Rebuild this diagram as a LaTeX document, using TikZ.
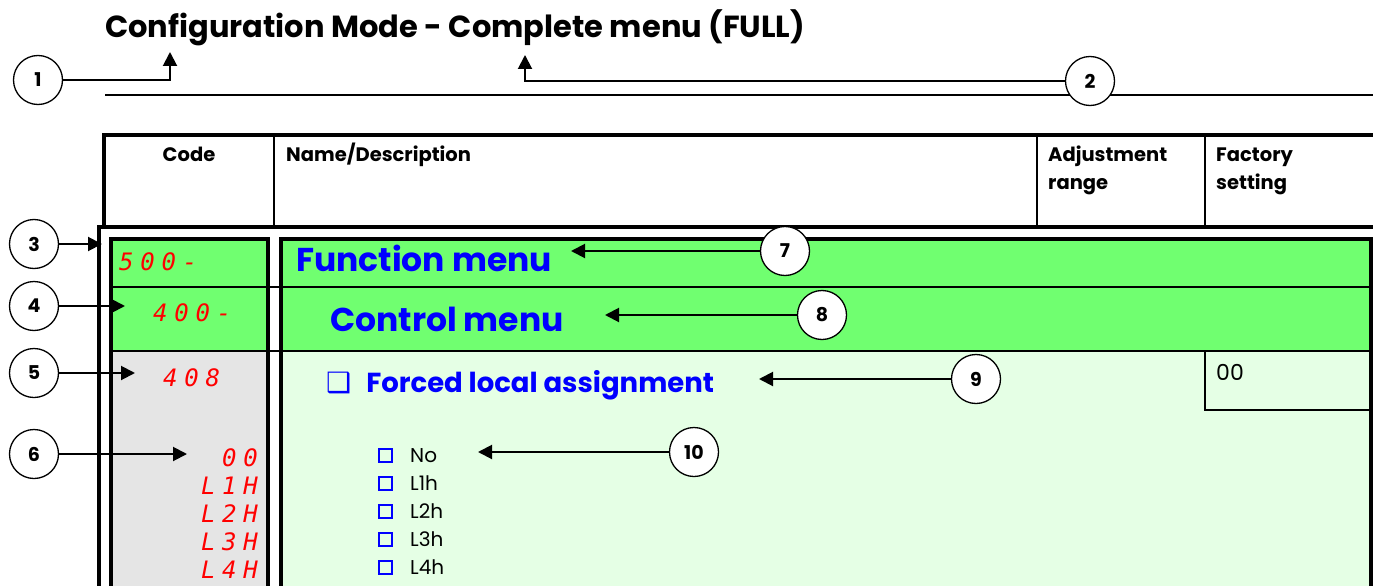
\documentclass[tikz,border=0pt]{standalone}
\usepackage{fontspec}
\setmainfont{Poppins}
\newfontfamily\segfont[LetterSpace=28]{DejaVu Sans Mono}
\newfontfamily\symfont{DejaVu Sans}
\usetikzlibrary{arrows.meta}

\definecolor{menugreen}{RGB}{112,255,112}
\definecolor{palegreen}{RGB}{229,255,229}
\definecolor{codegray}{RGB}{229,229,229}
\definecolor{segred}{RGB}{255,0,0}
\definecolor{menublue}{RGB}{0,0,255}

\tikzset{
  callout/.style={circle, draw, fill=white, line width=1.3pt, minimum size=49pt,
    inner sep=0pt, font=\bfseries\fontsize{19}{19}\selectfont},
  pointer/.style={line width=2pt, -{Triangle[length=14pt,width=14pt]}},
  thickrule/.style={line width=4.5pt},
  thinrule/.style={line width=1.2pt},
  segcode/.style={text=segred, inner sep=0pt,
    font=\segfont\itshape\fontsize{24}{24}\selectfont},
  colhead/.style={inner sep=0pt, font=\bfseries\fontsize{19.5}{19.5}\selectfont},
  menuhead/.style={inner sep=0pt, text=menublue, font=\bfseries\fontsize{33}{33}\selectfont},
  opttext/.style={inner sep=0pt, font=\fontsize{20}{20}\selectfont},
  optbox/.style={draw=menublue, line width=2pt, minimum size=13pt, inner sep=0pt}
}

\begin{document}
\begin{tikzpicture}[x=1pt,y=-1pt]
  \useasboundingbox (0,0) rectangle (1373,586);
  \clip (0,0) rectangle (1373,586);

  % title
  \node[inner sep=0pt, anchor=base west, font=\bfseries\fontsize{30.5}{30.5}\selectfont]
    (title) at (105,38) {Configuration Mode - Complete menu (FULL)};
  \draw[thinrule] (105,95) -- (1380,95);

  % fills
  \fill[menugreen] (111,239) rectangle (268,351);
  \fill[codegray] (111,351) rectangle (268,600);
  \fill[menugreen] (281,239) rectangle (1371,351);
  \fill[palegreen] (281,351) rectangle (1371,600);

  % header
  \draw[thickrule] (104,229) -- (104,135) -- (1380,135);
  \draw[thinrule] (274,135) -- (274,227);
  \draw[thinrule] (1037,135) -- (1037,227);
  \draw[thinrule] (1205,135) -- (1205,227);
  \node[colhead, anchor=base] (code) at (189,161) {Code};
  \node[colhead, anchor=base west] (name) at (286,161) {Name/Description};
  \node[colhead, anchor=base west] (adj) at (1048,161) {Adjustment};
  \node[colhead, anchor=base west] (adjb) at (1048,189) {range};
  \node[colhead, anchor=base west] (fact) at (1216,161) {Factory};
  \node[colhead, anchor=base west] (factb) at (1216,189) {setting};

  % boxes
  \draw[thickrule] (99,600) -- (99,227) -- (1380,227);
  \draw[thickrule] (111,600) -- (111,239) -- (268,239) -- (268,600);
  \draw[thickrule] (281,600) -- (281,239) -- (1371,239) -- (1371,600);
  \draw[thinrule] (111,287) -- (1371,287);
  \draw[thinrule] (111,351) -- (1371,351);
  \draw[thinrule] (1205,351) -- (1205,410) -- (1371,410);

  % codes
  \node[segcode, anchor=base west] (fun) at (119,270) {500-};
  \node[segcode, anchor=base west] (ctl) at (153,321) {400-};
  \node[segcode, anchor=base west] (flo) at (163,386) {408};
  \foreach \c [count=\i] in {00,L1H,L2H,L3H,L4H}
    \node[segcode, anchor=base east] (val\i) at (258,{438+28*\i}) {\c};

  % names
  \node[menuhead, anchor=base west] (funname) at (296,271) {Function menu};
  \node[menuhead, anchor=base west] (ctlname) at (330,331) {Control menu};
  \node[inner sep=0pt, anchor=base west, text=menublue, font=\bfseries\fontsize{27.5}{27.5}\selectfont]
    (floname) at (326,392) {{\symfont\fontsize{28}{28}\selectfont ❑}\hspace{15pt}Forced local assignment};
  \foreach \o [count=\i] in {No,L1h,L2h,L3h,L4h} {
    \node[optbox] (box\i) at (385,{427+28*\i}) {};
    \node[opttext, anchor=base west] (opt\i) at (410,{434+28*\i}) {\o};
  }
  \node[opttext, anchor=base west, font=\fontsize{22}{22}\selectfont] (factval) at (1216,380) {00};

  % callouts
  \foreach \n/\x/\y in {1/38/80, 2/1090/81, 3/34/244, 4/34/306, 5/34/373,
      6/34/454, 7/785/251, 8/822/315, 9/976/379, 10/694/452}
    \node[callout] (c\n) at (\x,\y) {\n};
  \coordinate (p1) at (170,52);
  \coordinate (p2) at (525,55);
  \draw[pointer] (c1) -| (p1);
  \draw[pointer] (c2) -| (p2);
  \foreach \n/\x/\y in {3/102/244, 4/125/306, 5/135/373, 6/187/454,
      7/571/251, 8/605/315, 9/759/379, 10/478/452} {
    \coordinate (p\n) at (\x,\y);
    \draw[pointer] (c\n) -- (p\n);
  }
\end{tikzpicture}
\end{document}
